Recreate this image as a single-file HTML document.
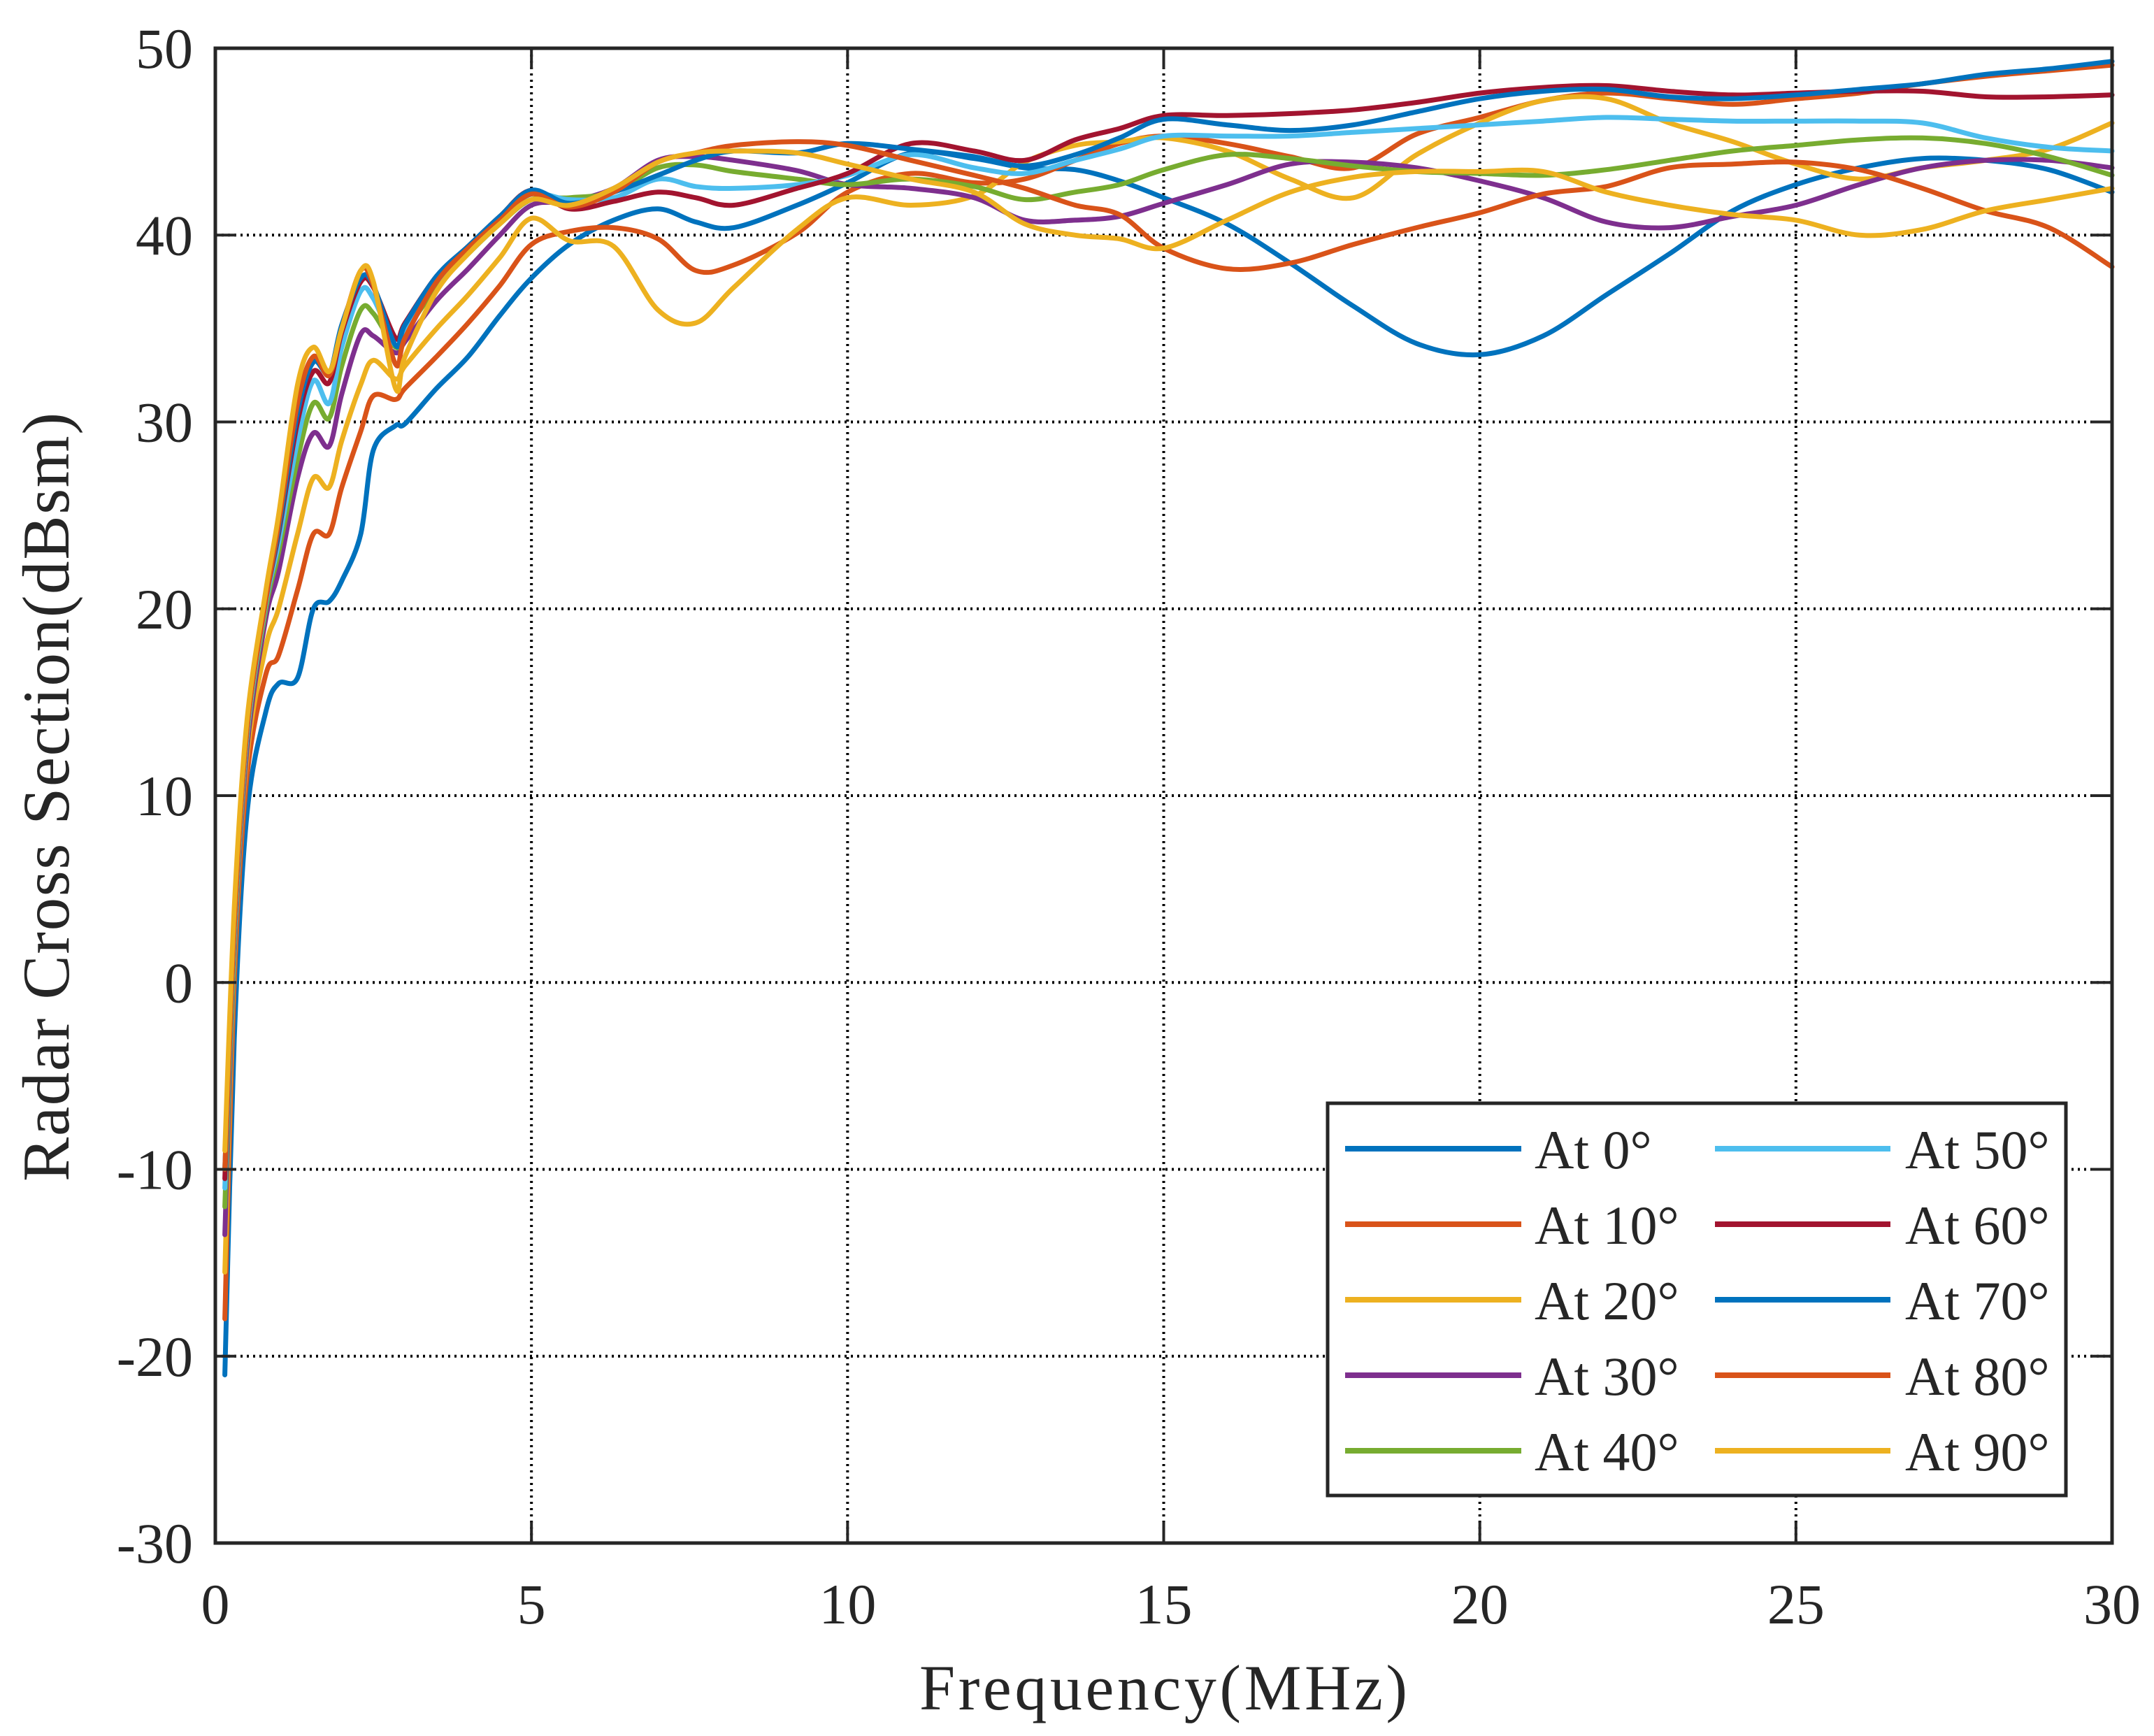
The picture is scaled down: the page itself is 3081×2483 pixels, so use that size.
<!DOCTYPE html>
<html><head><meta charset="utf-8"><style>
html,body{margin:0;padding:0;background:#fff}
svg{display:block}
text{font-family:"Liberation Serif",serif;fill:#262626}
</style></head><body>
<svg id="chart" width="3081" height="2483" viewBox="0 0 3081 2483" xmlns="http://www.w3.org/2000/svg">
<rect x="0" y="0" width="3081" height="2483" fill="#fff"/>
<g id="grid"></g>
<g id="series"></g>
<g id="axes"></g>
<text x="1664" y="2445" font-size="92" text-anchor="middle" textLength="698">Frequency(MHz)</text>
<text transform="translate(98,1140) rotate(-90)" font-size="95" text-anchor="middle" textLength="1100">Radar Cross Section(dBsm)</text>
<g id="legend"></g>
</svg>
<script>
const freq=[0.15,0.3,0.5,0.8,1.0,1.3,1.55,1.8,2.0,2.3,2.5,2.85,3.0,3.5,4.0,4.5,5.0,5.6,6.3,7.0,7.6,8.2,9.2,10,11,12,12.8,13.6,14.3,15,16,17,18,19,20,21,22,23,24,25,26,27,28,29,30];
const rcs0=[-21,-3,9,14.5,16,16.3,20,20.4,21.5,24,28.5,29.8,29.9,31.8,33.5,35.7,37.7,39.5,40.8,41.4,40.7,40.4,41.6,42.8,44.4,44.1,43.6,43.5,42.9,42.0,40.6,38.5,36.2,34.2,33.6,34.6,36.8,39.0,41.3,42.7,43.6,44.1,44.0,43.5,42.3];
const rcs10=[-18,0,11,16.5,17.5,21,24,24,26.5,29.5,31.4,31.2,31.8,33.5,35.3,37.3,39.5,40.2,40.4,39.8,38.1,38.4,40.1,42.3,43.3,42.8,43.0,44.0,44.9,45.3,44.9,44.2,43.6,45.4,46.3,47.2,47.6,47.3,47.0,47.3,47.6,48.1,48.5,48.8,49.1];
const rcs20=[-15.5,1,12,18,20,24,27,26.5,29,32,33.3,32.3,33,35,36.8,38.8,40.9,39.7,39.4,36.0,35.3,37.2,40.3,42.0,41.6,42.1,43.9,44.8,45.0,45.2,44.5,43.0,42.0,44.3,46.0,47.2,47.3,46.0,45.0,43.8,43.0,43.6,44.0,44.6,46.0];
const rcs30=[-13.5,1.5,12.5,19.5,22,27,29.4,28.7,31.5,34.7,34.6,33.7,34.3,36.5,38.2,40.0,41.6,41.8,42.5,44.0,44.2,44.0,43.45,42.7,42.5,42.0,40.8,40.8,41.0,41.7,42.7,43.8,43.9,43.6,42.9,42.0,40.7,40.4,41.0,41.6,42.7,43.6,44.0,44.0,43.6];
const rcs40=[-12,2,13,20,23,28,31,30.2,33,36.0,35.8,34.0,34.8,37.2,39.0,40.6,41.9,42.0,42.3,43.6,43.75,43.4,43.0,42.7,43.0,42.6,41.9,42.3,42.7,43.5,44.3,44.1,43.7,43.4,43.3,43.2,43.5,44.0,44.5,44.8,45.1,45.2,44.9,44.2,43.2];
const rcs50=[-11,2.5,13.2,20.3,23.5,29,32.2,31.0,34,37.0,36.6,34.1,35,37.5,39.2,40.8,42.2,41.9,42.0,43.0,42.6,42.5,42.7,43.2,44.3,43.6,43.3,44.0,44.6,45.3,45.3,45.3,45.5,45.7,45.9,46.1,46.3,46.2,46.1,46.1,46.1,46.0,45.2,44.7,44.5];
const rcs60=[-10.5,3,13.5,20.5,24,30,32.7,32.1,34.8,37.5,37.2,34.5,35.3,37.8,39.4,41.0,42.4,41.4,41.8,42.3,42.0,41.6,42.5,43.3,44.9,44.5,44.0,45.1,45.7,46.4,46.4,46.5,46.7,47.1,47.6,47.9,48.0,47.7,47.5,47.6,47.7,47.7,47.4,47.4,47.5];
const rcs70=[-10,3.2,13.6,20.6,24.2,30.5,33.2,32.6,35.2,37.7,37.3,34.1,35.2,37.8,39.4,41.0,42.4,41.7,42.3,43.2,44.0,44.5,44.4,44.9,44.6,44.2,43.7,44.3,45.2,46.2,45.9,45.6,45.9,46.6,47.3,47.7,47.8,47.4,47.3,47.5,47.8,48.1,48.6,48.9,49.3];
const rcs80=[-10,3,13.5,20.5,24.5,31,33.5,32.5,35,38.1,37.3,33.1,34.5,37.5,39.3,40.8,42.2,41.5,42.3,43.9,44.4,44.8,45.0,44.8,44.0,43.2,42.5,41.6,41.1,39.3,38.2,38.5,39.5,40.4,41.2,42.2,42.6,43.6,43.8,43.9,43.5,42.5,41.3,40.4,38.3];
const rcs90=[-9,4,14,21,25,32,34,32.7,35,38.1,37.5,31.8,33.5,37,39,40.6,41.9,41.6,42.5,43.9,44.4,44.5,44.4,43.8,43.0,42.3,40.6,40.0,39.8,39.3,40.8,42.3,43.1,43.4,43.4,43.4,42.3,41.6,41.1,40.8,40.0,40.3,41.3,41.9,42.5];
const seriesLabels=["At 0°","At 10°","At 20°","At 30°","At 40°","At 50°","At 60°","At 70°","At 80°","At 90°"];
const seriesColors=["#0072BD","#D95319","#EDB120","#7E2F8E","#77AC30","#4DBEEE","#A2142F","#0072BD","#D95319","#EDB120"];
const xTicks=[0,5,10,15,20,25,30];
const yTicks=[-30,-20,-10,0,10,20,30,40,50];

const NS="http://www.w3.org/2000/svg";
const L=308,R=3021,T=69,B=2207;
const xS=v=>L+(v-0)/(30-0)*(R-L);
const yS=v=>B-(v+30)/(80)*(B-T);
function mk(tag,attrs,parent){const e=document.createElementNS(NS,tag);for(const k in attrs)e.setAttribute(k,attrs[k]);parent.appendChild(e);return e;}

const grid=document.getElementById('grid');
xTicks.forEach(t=>{
  if(t===0||t===30)return;
  const l=mk('line',{x1:xS(t),x2:xS(t),y1:T,y2:B,stroke:'#000','stroke-width':4,'stroke-dasharray':'3 6'},grid);
  
  
});
yTicks.forEach(t=>{
  if(t===-30||t===50)return;
  const l=mk('line',{x1:L,x2:R,y1:yS(t),y2:yS(t),stroke:'#000','stroke-width':4,'stroke-dasharray':'3 6'},grid);
  
  
});

function smoothPath(P){
  let d='M'+P[0][0].toFixed(1)+','+P[0][1].toFixed(1);
  for(let i=0;i<P.length-1;i++){
    const p0=P[Math.max(0,i-1)],p1=P[i],p2=P[i+1],p3=P[Math.min(P.length-1,i+2)];
    const c1x=p1[0]+(p2[0]-p0[0])/6,c1y=p1[1]+(p2[1]-p0[1])/6;
    const c2x=p2[0]-(p3[0]-p1[0])/6,c2y=p2[1]-(p3[1]-p1[1])/6;
    d+=' C'+c1x.toFixed(1)+','+c1y.toFixed(1)+' '+c2x.toFixed(1)+','+c2y.toFixed(1)+' '+p2[0].toFixed(1)+','+p2[1].toFixed(1);
  }
  return d;
}

const sg=document.getElementById('series');
const allSeries=[rcs0,rcs10,rcs20,rcs30,rcs40,rcs50,rcs60,rcs70,rcs80,rcs90];
allSeries.forEach((vals,i)=>{
  const P=vals.map((v,j)=>[xS(freq[j]),yS(v)]);
  const p=mk('path',{d:smoothPath(P),fill:'none',stroke:seriesColors[i],'stroke-width':7,'stroke-linejoin':'round','stroke-linecap':'round'},sg);
  
  
});

const ax=document.getElementById('axes');
const box=mk('rect',{x:L,y:T,width:R-L,height:B-T,fill:'none',stroke:'#262626','stroke-width':5},ax);


xTicks.forEach(t=>{
  const x=xS(t);
  mk('line',{x1:x,x2:x,y1:B,y2:B-30,stroke:'#262626','stroke-width':4},ax);
  mk('line',{x1:x,x2:x,y1:T,y2:T+30,stroke:'#262626','stroke-width':4},ax);
  const tx=mk('text',{x:x,y:2322,'font-size':82,'text-anchor':'middle'},ax);
  tx.textContent=t;
  
  
});
yTicks.forEach(t=>{
  const y=yS(t);
  mk('line',{x1:L,x2:L+30,y1:y,y2:y,stroke:'#262626','stroke-width':4},ax);
  mk('line',{x1:R,x2:R-30,y1:y,y2:y,stroke:'#262626','stroke-width':4},ax);
  const tx=mk('text',{x:276,y:y+28,'font-size':82,'text-anchor':'end'},ax);
  tx.textContent=t;
  
  
});

const lg=document.getElementById('legend');
const lb=mk('rect',{x:1899,y:1578,width:1056,height:561,fill:'#fff',stroke:'#262626','stroke-width':5},lg);


seriesLabels.forEach((lab,i)=>{
  const col=Math.floor(i/5),row=i%5;
  const y=1643+row*108;
  const x0=col?2453:1924, x1=col?2704:2176, tx0=col?2725:2195;
  const g=mk('g',{},lg);
  
  
  mk('line',{x1:x0,x2:x1,y1:y,y2:y,stroke:seriesColors[i],'stroke-width':8},g);
  const t=mk('text',{x:tx0,y:y+28,'font-size':78,fill:'#000'},g);
  t.textContent=lab;
});
</script>
</body></html>
